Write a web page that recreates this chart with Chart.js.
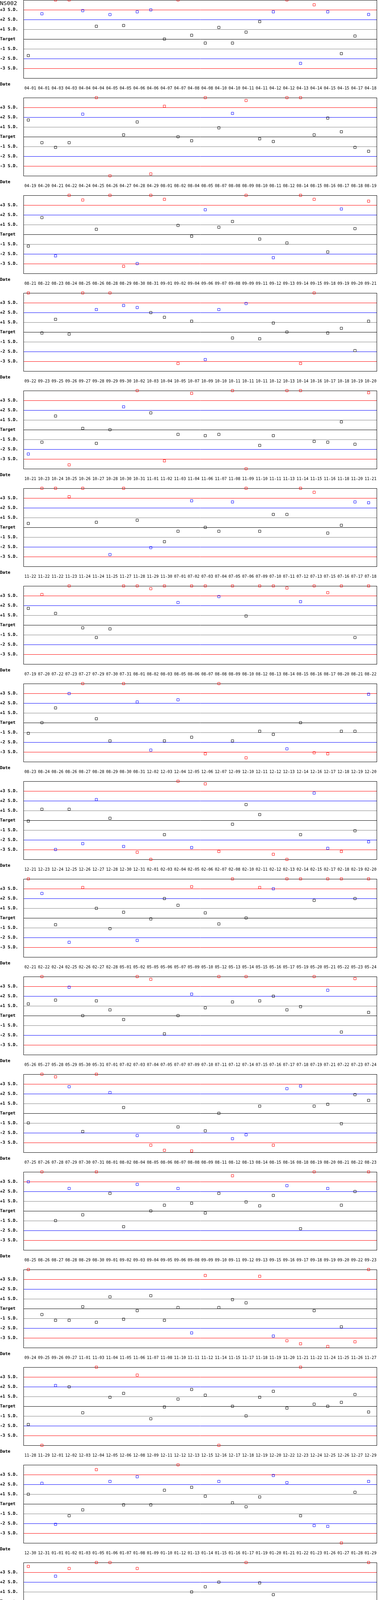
<!DOCTYPE html>
<html>
<head>
<meta charset="utf-8">
<title>NS002</title>
<script src="https://cdn.jsdelivr.net/npm/chart.js@4.4.0/dist/chart.umd.min.js"></script>
<style>
body { margin: 0; background: #fff; }
#wrap { position: relative; width: 970px; height: 5250px; overflow: hidden; }
#wrap canvas { position: absolute; left: 0; }
.lbl { position: absolute; left: 0; z-index: 2; font-family: "DejaVu Sans Mono", monospace; color: #000; white-space: nowrap; }
.title { top: 0; font-size: 14.5px; line-height: 16px; }
.date { font-size: 11px; font-weight: bold; line-height: 13px; }
</style>
</head>
<body>
<div id="wrap"><div class="lbl title">NS002</div></div>
<script>
// y axis: S.D. levels
var sdTicks = [-3, -2, -1, 0, 1, 2, 3];
var sdNames = ['-3 S.D.', '-2 S.D.', '-1 S.D.', 'Target', '+1 S.D.', '+2 S.D.', '+3 S.D.'];
var lineColors = ['#ff0000', '#0000ff', '#808080', '#000000', '#808080', '#0000ff', '#ff0000'];

// one row of 26 runs per panel (values in S.D., clipped at +/-4)
var dates1 = ['04-01','04-01','04-03','04-03','04-04','04-04','04-05','04-05','04-06','04-06','04-07','04-07','04-08','04-08','04-10','04-10','04-11','04-11','04-12','04-12','04-13','04-14','04-15','04-15','04-17','04-18'];
var sd1 = [-1.69, 2.59, 4, 4, 2.91, 1.31, 2.51, 1.39, 2.79, 2.99, 0, 4, 0.39, -0.41, 1.19, -0.41, 0.71, 1.79, 2.79, 4, -2.49, 3.51, 2.79, -1.49, 0.31, 2.52];

var dates2 = ['04-19','04-20','04-21','04-22','04-24','04-25','04-26','04-27','04-28','04-29','08-01','08-02','08-04','08-05','08-07','08-08','08-09','08-10','08-11','08-12','08-14','08-15','08-16','08-17','08-18','08-19'];
var sd2 = [1.71, -0.61, -1.09, -0.61, 2.31, 4, -4, 0.19, 1.51, -3.81, 3.12, 0, -0.41, 4, 0.91, 2.39, 3.71, -0.21, -0.49, 4, 4, 0.19, 1.91, 0.51, -1.09, -1.49];

var dates3 = ['08-21','08-22','08-23','08-24','08-25','08-26','08-28','08-29','08-30','08-31','09-01','09-02','09-04','09-06','09-07','09-08','09-09','09-11','09-12','09-13','09-14','09-15','09-18','09-19','09-20','09-21'];
var sd3 = [-1.20, 1.72, -2.20, 4, 3.52, 0.52, 4, -3.27, -2.99, 4, 3.59, 0.92, -0.19, 2.52, 0.73, 1.32, 4, -0.48, -2.39, -0.88, 4, 3.59, -1.80, 2.60, 0.59, 3.40];

var dates4 = ['09-22','09-23','09-25','09-26','09-27','09-28','09-29','09-30','10-02','10-03','10-04','10-05','10-07','10-09','10-10','10-11','10-11','10-11','10-12','10-13','10-14','10-16','10-17','10-18','10-19','10-20'];
var sd4 = [4, -0.10, 1.30, -0.21, 4, 2.30, 4, 2.72, 2.51, 1.99, 1.51, -3.22, 1.11, -2.82, 2.30, -0.61, 2.92, -0.69, 0.92, 0, -3.22, 4, -0.10, 0.38, -1.90, 1.11];

var dates5 = ['10-21','10-23','10-24','10-25','10-26','10-27','10-28','10-30','10-31','11-01','11-02','11-03','11-04','11-06','11-07','11-08','11-09','11-10','11-11','11-13','11-14','11-15','11-16','11-18','11-20','11-21'];
var sd5 = [-2.49, -1.28, 1.40, -3.60, 0.13, -1.40, 0, 2.34, 4, 1.72, -3.19, -0.48, 3.72, -0.61, -0.48, 4, -4, -1.61, -0.61, 4, 4, -1.20, -1.28, 0.80, -1.49, 3.79];

var dates6 = ['11-22','11-22','11-22','11-23','11-24','11-24','11-25','11-27','11-28','11-29','11-30','07-01','07-02','07-03','07-04','07-05','07-06','07-09','07-10','07-11','07-12','07-13','07-15','07-16','07-17','07-18'];
var sd6 = [0.40, 4, 4, 3.14, 4, 0.52, -2.79, 4, 0.73, -2.08, -1.47, -0.40, 2.72, 0, -0.40, 2.60, 4, -0.40, 1.32, 1.32, 4, 3.59, -0.59, 0.21, 2.60, 2.52];

var dates7 = ['07-19','07-20','07-22','07-23','07-27','07-29','07-30','07-31','08-01','08-02','08-03','08-05','08-06','08-07','08-08','08-09','08-10','08-12','08-13','08-14','08-15','08-16','08-17','08-20','08-21','08-22'];
var sd7 = [1.70, 3.12, 1.19, 4, -0.29, -1.28, -0.40, 4, 4, 3.72, 4, 2.30, 4, 4, 2.91, 4, 0.92, 4, 4, 3.79, 2.39, 4, 3.31, 4, -1.28, 4];

var dates8 = ['08-23','08-24','08-26','08-26','08-27','08-28','08-29','08-30','08-31','12-02','12-03','12-04','12-05','12-06','12-07','12-09','12-10','12-11','12-12','12-13','12-14','12-16','12-17','12-18','12-19','12-20'];
var sd8 = [-1.09, 0, 1.51, 2.98, 4, 0.40, -1.87, 4, 2.12, -2.81, -1.87, 2.34, -1.49, -3.19, 4, -1.87, -3.60, -0.88, -1.20, -2.68, 0, -3.08, -3.19, -0.88, -0.88, 2.91];

var dates9 = ['12-21','12-23','12-24','12-25','12-26','12-27','12-28','12-30','12-31','02-01','02-03','02-04','02-05','02-06','02-07','02-08','02-10','02-11','02-12','02-13','02-14','02-15','02-17','02-18','02-19','02-20'];
var sd9 = [-0.08, 1.13, -2.99, 1.13, -2.39, 2.12, 0.21, -2.68, -3.27, -4, -1.47, 4, -2.79, 3.73, -3.19, -0.40, 1.61, 0.59, -3.48, -4, -1.47, 2.79, -2.87, -3.19, -1.07, -2.20];

var dates10 = ['02-21','02-22','02-24','02-25','02-26','02-27','02-28','05-01','05-02','05-05','05-06','05-07','05-09','05-10','05-12','05-13','05-14','05-15','05-16','05-17','05-19','05-20','05-21','05-22','05-23','05-24'];
var sd10 = [4, 2.51, -0.69, -2.49, 3.12, 0.99, -1.09, 0.59, -2.30, -0.10, 1.99, 1.30, 3.20, 0.52, -0.61, 4, 0, 3.12, 2.99, 4, 4, 1.80, 4, 4, 1.99, 4];

var dates11 = ['05-26','05-27','05-28','05-29','05-30','05-31','07-01','07-02','07-03','07-04','07-05','07-07','07-09','07-10','07-11','07-12','07-14','07-15','07-16','07-17','07-18','07-19','07-21','07-22','07-23','07-24'];
var sd11 = [1.20, 4, 1.59, 2.91, 0, 1.51, 0.59, -0.40, 4, 3.72, -1.87, 0, 2.20, 0.80, 4, 1.40, 4, 1.51, 1.99, 0.59, 0.92, 4, 2.60, -1.68, 3.79, 0.33];

var dates12 = ['07-25','07-26','07-28','07-29','07-30','07-31','08-01','08-02','08-04','08-05','08-06','08-07','08-08','08-09','08-11','08-12','08-13','08-14','08-15','08-16','08-18','08-19','08-20','08-21','08-22','08-23'];
var sd12 = [-0.99, 4, 3.73, 2.72, -1.87, 4, 2.12, 0.59, -2.28, -3.27, -3.79, -1.40, -3.86, -1.80, 0, -2.60, -2.20, 0.73, -3.27, 2.52, 2.79, 0.73, 0.92, -1.07, 1.91, 1.32];

var dates13 = ['08-25','08-26','08-27','08-28','08-29','08-30','09-01','09-02','09-03','09-04','09-05','09-06','09-08','09-09','09-10','09-11','09-12','09-13','09-15','09-16','09-17','09-18','09-19','09-20','09-22','09-23'];
var sd13 = [2.99, 4, -0.99, 2.30, -0.40, 4, 1.80, -1.61, 2.72, 0, 0.59, 2.30, 0.79, -0.21, 1.80, 3.60, 0.92, 0.52, 1.59, 2.59, -1.82, 4, 2.30, 0.59, 1.99, 4];

var dates14 = ['09-24','09-25','09-26','09-27','11-01','11-03','11-04','11-05','11-06','11-07','11-08','11-10','11-11','11-12','11-14','11-15','11-17','11-18','11-19','11-20','11-21','11-22','11-24','11-25','11-26','11-27'];
var sd14 = [4, -0.61, -1.20, -1.20, 0.19, -1.40, 1.20, -1.09, -0.21, 1.32, -1.20, 0.11, -2.49, 3.39, 0.11, 0.92, 0.59, 3.31, -2.81, -3.29, -3.60, -0.21, -3.88, -1.87, -3.40, 4];

var dates15 = ['11-28','11-29','12-01','12-02','12-03','12-04','12-05','12-06','12-08','12-09','12-11','12-12','12-13','12-15','12-16','12-17','12-18','12-19','12-20','12-22','12-23','12-24','12-25','12-26','12-27','12-29'];
var sd15 = [-1.87, -4, 2.12, 1.99, -0.67, 4, 0.92, 1.32, 3.19, -1.28, -0.08, 0.73, 1.72, 1.13, -4, 0, -0.99, 0.92, 1.53, -0.19, 4, 0.21, 0, 0.40, 1.20, -0.59];

var dates16 = ['12-30','12-31','01-01','01-02','01-03','01-05','01-06','01-07','01-08','01-09','01-10','01-12','01-13','01-14','01-15','01-16','01-17','01-19','01-20','01-21','01-22','01-23','01-26','01-27','01-28','01-29'];
var sd16 = [0.99, 2.11, -2.09, -1.21, -0.61, 3.51, 2.30, -0.10, 2.78, -0.10, 1.40, 4, 1.70, 0.79, 2.30, 0.11, -0.29, 0.71, 2.91, 2.18, -1.21, -2.22, -2.30, -4, 1.19, 2.30];

var dates17 = ['01-30','01-31','02-02','02-03','02-04','02-05','02-06','02-07','02-09','02-10','02-11','02-12','02-13','02-14','02-16','02-17','02-19','02-20','02-21','02-23','02-24','02-25','02-26','02-27','02-28','03-02'];
var sd17 = [3.60, -2.49, 2.60, 3.39, -1.87, 4, 4, -0.80, 3.39, -3.19, -1.20, -0.69, 0.99, 1.51, 1.99, -2.49, 4, 1.91, 0.71, -2.81, -0.21, -1.09, 0, -1.49, -2.41, 4];

var dates18 = ['03-03','03-04','03-05','03-06','03-07','03-09','03-10','03-11','03-12','03-13','03-14','03-16','03-17','03-18','03-19','03-20','03-21','03-23','03-24','03-25','03-26','03-27','03-28','03-30','03-31','04-01'];
var sd18 = [0.99, -1.40, 0.59, 2.79, 4, 1.91, 3.40, 0.80, -2.39, 1.32, 1.32, 3.19, 0.92, -0.48, 4, -2.87, -0.59, -2.39, -2.60, 1.53, -1.07, 0.99, -3.48, -0.48, -1.20, 2.12];

var dates19 = ['04-02','04-03','04-06','04-07','04-08','04-09','04-10','04-11','04-13','04-14','04-15','04-16','04-17','04-18','04-20','04-21','04-22','04-23','04-24','04-25','04-27','04-28','04-29','04-30','06-01','06-02'];
var sd19 = [0.38, 0.92, 0.19, 2.72, -1.69, 4, -1.28, -0.61, -0.80, -1.09, 3.72, 0.71, 1.80, 2.30, 4, -0.29, 0.11, -0.29, 0.79, -4, -1.82, 0.59, 0.11, 1.11, -0.50, 2.59];

var dates20 = ['06-03','06-04','06-05','06-06','06-08','06-09','06-10','06-11','06-12','06-13','06-15','06-16','06-17','06-18','06-19','06-20','06-22','06-23','06-23','06-24','06-25','06-26','06-27','06-29','06-30','07-01'];
var sd20 = [3.52, -1.20, 1.59, 2.39, 0.92, 3.31, -0.48, 0.40, 1.59, 4, -0.21, 1.20, -1.28, 0.19, 1.32, 1.80, -1.40, 0.19, 1.51, 4, 3.19, 4, 1.91, -0.80, 0.52, 4];

var dates21 = ['07-02','07-03','07-04','07-06','07-07','07-08','07-09','07-10','07-13','07-14','07-15','07-16','07-17','07-18','07-20','07-21','07-22','07-23','07-24','07-27','07-28','07-29','07-30','07-31'];
var sd21 = [0.92, 4, 2.33, 1.32, -1.99, 4, 1.72, 1.60, 4, 0, -3.68, 0.80, 1.60, 0.80, 0.20, 4, -2.60, 0.40, -1.99, 4, 0.32, -1.68, 2.80, -0.48];

var panels = [
    [dates1, sd1], [dates2, sd2], [dates3, sd3], [dates4, sd4], [dates5, sd5],
    [dates6, sd6], [dates7, sd7], [dates8, sd8], [dates9, sd9], [dates10, sd10],
    [dates11, sd11], [dates12, sd12], [dates13, sd13], [dates14, sd14], [dates15, sd15],
    [dates16, sd16], [dates17, sd17], [dates18, sd18], [dates19, sd19], [dates20, sd20],
    [dates21, sd21]
];

function pointColor(v) {
    var a = Math.abs(v);
    if (a > 3) return '#ff0000';
    if (a > 2) return '#0000ff';
    return '#000000';
}

// black box round the plot area
var frame = {
    id: 'frame',
    beforeDatasetsDraw: function (chart) {
        var a = chart.chartArea;
        var ctx = chart.ctx;
        ctx.save();
        ctx.strokeStyle = '#000';
        ctx.lineWidth = 1;
        ctx.strokeRect(Math.round(a.left) + 0.5, Math.round(a.top) + 0.5,
            Math.round(a.right - a.left) - 1, Math.round(a.bottom - a.top));
        ctx.restore();
    }
};

var mono = 'DejaVu Sans Mono';
var xMin = -12.5 / 35;
var wrap = document.getElementById('wrap');

panels.forEach(function (p, i) {
    var dates = p[0];
    var vals = p[1];
    var top = 250 * i;

    var cv = document.createElement('canvas');
    cv.width = 970;
    cv.height = 260;
    cv.style.top = (top - 10) + 'px';
    wrap.appendChild(cv);

    var d = document.createElement('div');
    d.className = 'lbl date';
    d.style.top = (top + 209) + 'px';
    d.textContent = 'Date';
    wrap.appendChild(d);

    new Chart(cv, {
        type: 'scatter',
        data: {
            datasets: [{
                data: vals.map(function (v, j) { return { x: j, y: v }; }),
                pointStyle: 'rect',
                pointRadius: 4.243,
                pointHoverRadius: 4.243,
                pointBorderWidth: 1,
                pointBackgroundColor: 'rgba(0,0,0,0)',
                pointBorderColor: vals.map(pointColor),
                clip: false
            }]
        },
        options: {
            responsive: false,
            animation: false,
            events: [],
            layout: { padding: { top: 10, right: 1, bottom: 0, left: 0 } },
            plugins: { legend: { display: false }, tooltip: { enabled: false } },
            scales: {
                x: {
                    type: 'linear',
                    min: xMin,
                    max: xMin + 909 / 35,
                    afterBuildTicks: function (s) {
                        s.ticks = dates.map(function (t, j) { return { value: j }; });
                    },
                    afterFit: function (s) {
                        s.height = 50;
                        s.paddingLeft = 0;
                        s.paddingRight = 0;
                    },
                    grid: { display: false },
                    border: { display: false },
                    ticks: {
                        autoSkip: false,
                        maxRotation: 0,
                        minRotation: 0,
                        padding: 12,
                        labelOffset: 5,
                        color: '#000',
                        font: { family: mono, size: 10 },
                        callback: function (v, j) { return dates[j]; }
                    }
                },
                y: {
                    min: -4,
                    max: 4,
                    afterBuildTicks: function (s) {
                        s.ticks = sdTicks.map(function (v) { return { value: v }; });
                    },
                    afterFit: function (s) {
                        s.width = 60;
                        s.paddingTop = 0;
                        s.paddingBottom = 0;
                    },
                    border: { display: false },
                    grid: {
                        drawTicks: false,
                        lineWidth: 1,
                        color: function (c) { return lineColors[sdTicks.indexOf(c.tick.value)]; }
                    },
                    ticks: {
                        crossAlign: 'far',
                        color: '#000',
                        font: { family: mono, size: 11, weight: 'bold' },
                        callback: function (v) { return sdNames[sdTicks.indexOf(v)]; }
                    }
                }
            }
        },
        plugins: [frame]
    });
});
</script>
</body>
</html>
